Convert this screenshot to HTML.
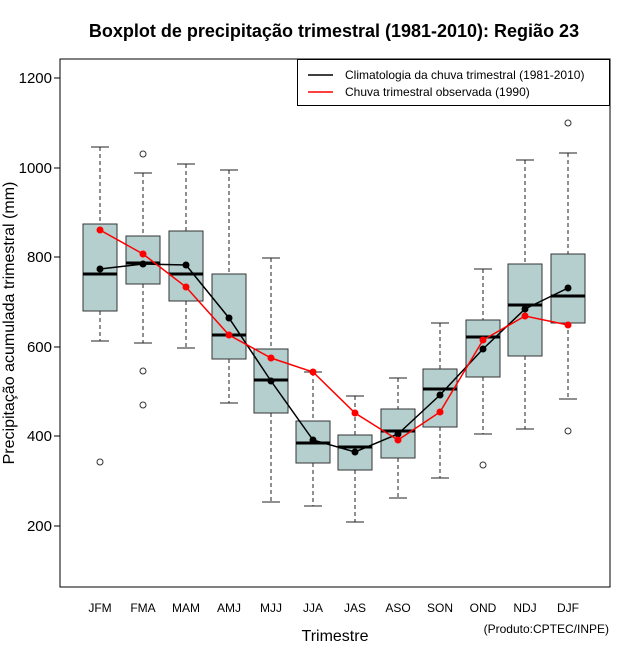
<!DOCTYPE html>
<html><head><meta charset="utf-8"><style>body{margin:0;background:#fff}svg{display:block}text{font-family:"Liberation Sans",sans-serif}</style></head><body>
<svg width="640" height="660" xmlns="http://www.w3.org/2000/svg">
<text x="334" y="37" font-size="18" font-weight="bold" text-anchor="middle">Boxplot de precipitação trimestral (1981-2010): Região 23</text>
<rect x="60" y="59" width="550" height="528" fill="none" stroke="#000" stroke-width="1"/>
<g font-size="15" text-anchor="end">
<line x1="54" y1="526" x2="60" y2="526" stroke="#000"/><text x="52" y="531">200</text>
<line x1="54" y1="436" x2="60" y2="436" stroke="#000"/><text x="52" y="441">400</text>
<line x1="54" y1="347" x2="60" y2="347" stroke="#000"/><text x="52" y="352">600</text>
<line x1="54" y1="257" x2="60" y2="257" stroke="#000"/><text x="52" y="262">800</text>
<line x1="54" y1="168" x2="60" y2="168" stroke="#000"/><text x="52" y="173">1000</text>
<line x1="54" y1="78" x2="60" y2="78" stroke="#000"/><text x="52" y="83">1200</text>
</g>
<text transform="translate(14,323) rotate(-90)" font-size="16" text-anchor="middle">Precipitação acumulada trimestral (mm)</text>
<text x="335" y="641" font-size="16" text-anchor="middle">Trimestre</text>
<text x="609" y="633" font-size="12" text-anchor="end">(Produto:CPTEC/INPE)</text>
<g font-size="12" text-anchor="middle">
<text x="100" y="612">JFM</text><text x="143" y="612">FMA</text><text x="186" y="612">MAM</text><text x="229" y="612">AMJ</text><text x="271" y="612">MJJ</text><text x="313" y="612">JJA</text><text x="355" y="612">JAS</text><text x="398" y="612">ASO</text><text x="440" y="612">SON</text><text x="483" y="612">OND</text><text x="525" y="612">NDJ</text><text x="568" y="612">DJF</text>
</g>
<g stroke="#222" stroke-width="1">
<g stroke-dasharray="4,3"><path d="M100 147V224M100 311V341M143 173V236M143 284V343M186 164V231M186 301V348M229 170V274M229 359V403M271 258V349M271 413V502M313 372V421M313 463V506M355 396V435M355 470V522M398 378V409M398 458V498M440 323V369M440 427V478M483 269V320M483 377V434M525 160V264M525 356V429M568 153V254M568 323V399"/></g>
<path d="M91 147H109M91 341H109M134 173H152M134 343H152M177 164H195M177 348H195M220 170H238M220 403H238M262 258H280M262 502H280M304 372H322M304 506H322M346 396H364M346 522H364M389 378H407M389 498H407M431 323H449M431 478H449M474 269H492M474 434H492M516 160H534M516 429H534M559 153H577M559 399H577"/>
</g>
<g fill="#b5cfcf" stroke="#333" stroke-width="1">
<rect x="83" y="224" width="34" height="87"/><rect x="126" y="236" width="34" height="48"/><rect x="169" y="231" width="34" height="70"/><rect x="212" y="274" width="34" height="85"/><rect x="254" y="349" width="34" height="64"/><rect x="296" y="421" width="34" height="42"/><rect x="338" y="435" width="34" height="35"/><rect x="381" y="409" width="34" height="49"/><rect x="423" y="369" width="34" height="58"/><rect x="466" y="320" width="34" height="57"/><rect x="508" y="264" width="34" height="92"/><rect x="551" y="254" width="34" height="69"/>
</g>
<path stroke="#000" stroke-width="3" d="M83 274H117M126 263H160M169 274H203M212 335H246M254 380H288M296 443H330M338 447H372M381 431H415M423 389H457M466 337H500M508 305H542M551 296H585"/>
<g fill="none" stroke="#333"><circle cx="100" cy="462" r="3"/><circle cx="143" cy="154" r="3"/><circle cx="143" cy="371" r="3"/><circle cx="143" cy="405" r="3"/><circle cx="483" cy="465" r="3"/><circle cx="568" cy="123" r="3"/><circle cx="568" cy="431" r="3"/></g>
<polyline fill="none" stroke="#000" stroke-width="1.5" points="100,269 143,264 186,265 229,318 271,381 313,440 355,452 398,434 440,395 483,349 525,309 568,288"/>
<g fill="#000"><circle cx="100" cy="269" r="3.5"/><circle cx="143" cy="264" r="3.5"/><circle cx="186" cy="265" r="3.5"/><circle cx="229" cy="318" r="3.5"/><circle cx="271" cy="381" r="3.5"/><circle cx="313" cy="440" r="3.5"/><circle cx="355" cy="452" r="3.5"/><circle cx="398" cy="434" r="3.5"/><circle cx="440" cy="395" r="3.5"/><circle cx="483" cy="349" r="3.5"/><circle cx="525" cy="309" r="3.5"/><circle cx="568" cy="288" r="3.5"/></g>
<polyline fill="none" stroke="#f00" stroke-width="1.5" points="100,230 143,254 186,287 229,335 271,358 313,372 355,413 398,440 440,412 483,340 525,316 568,325"/>
<g fill="#f00"><circle cx="100" cy="230" r="3.5"/><circle cx="143" cy="254" r="3.5"/><circle cx="186" cy="287" r="3.5"/><circle cx="229" cy="335" r="3.5"/><circle cx="271" cy="358" r="3.5"/><circle cx="313" cy="372" r="3.5"/><circle cx="355" cy="413" r="3.5"/><circle cx="398" cy="440" r="3.5"/><circle cx="440" cy="412" r="3.5"/><circle cx="483" cy="340" r="3.5"/><circle cx="525" cy="316" r="3.5"/><circle cx="568" cy="325" r="3.5"/></g>
<rect x="297.5" y="59.5" width="312" height="46" fill="#fff" stroke="#000"/>
<line x1="308" y1="75" x2="333" y2="75" stroke="#000" stroke-width="1.5"/>
<line x1="308" y1="92" x2="333" y2="92" stroke="#f00" stroke-width="1.5"/>
<text x="345" y="79" font-size="12">Climatologia da chuva trimestral (1981-2010)</text>
<text x="345" y="96" font-size="12">Chuva trimestral observada (1990)</text>
</svg>
</body></html>
